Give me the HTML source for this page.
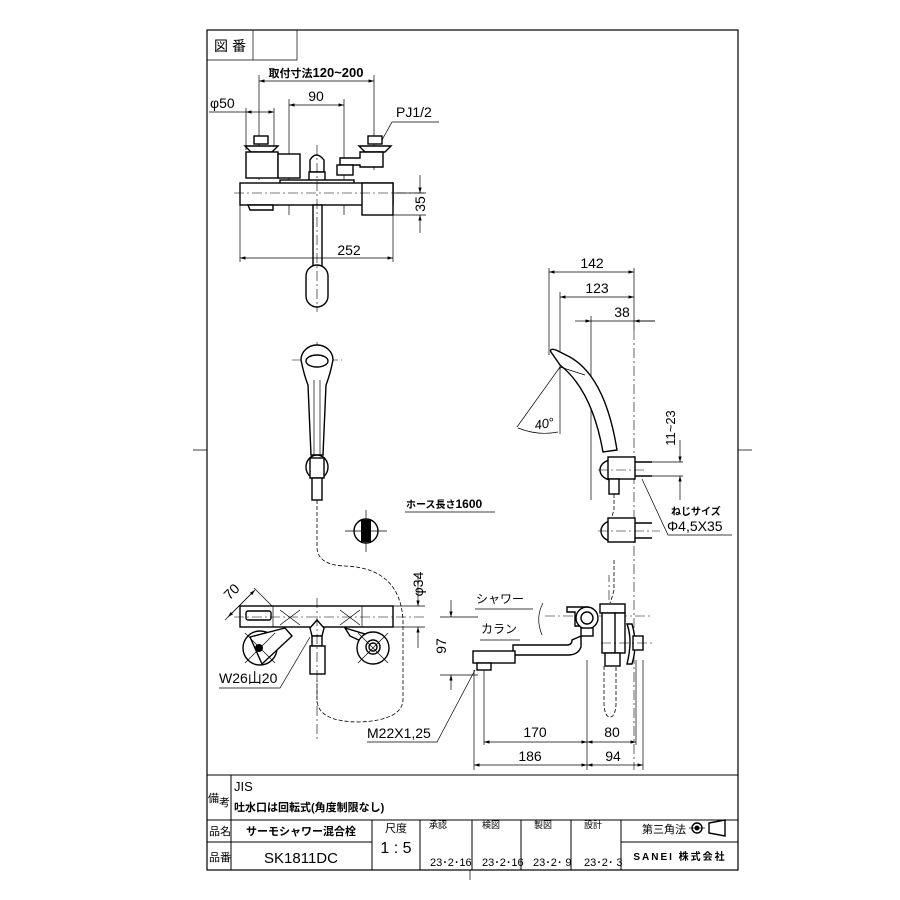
<!DOCTYPE html>
<html><head><meta charset="utf-8"><style>
html,body{margin:0;padding:0;background:#fff}
svg{display:block}
text{font-family:"Liberation Sans","Noto Sans CJK JP",sans-serif;fill:#000}
.o{fill:none;stroke:#000;stroke-width:1.4}
.of{fill:#fff;stroke:#000;stroke-width:1.4}
.t{fill:none;stroke:#000;stroke-width:0.7}
.c{fill:none;stroke:#000;stroke-width:0.6;stroke-dasharray:10 3 2 3}
.d{fill:none;stroke:#000;stroke-width:0.8;stroke-dasharray:4 2}
</style></head><body>
<svg width="900" height="900" viewBox="0 0 900 900" xmlns="http://www.w3.org/2000/svg">
<defs><marker id="a" viewBox="0 0 10 6" refX="10" refY="3" markerWidth="8" markerHeight="5" orient="auto-start-reverse"><path d="M0,0L10,3L0,6z" fill="#000"/></marker></defs>
<rect x="207" y="30" width="531" height="840" fill="none" stroke="#000" stroke-width="1.2"/>
<path class="t" d="M193,450H207M738,450H752M470,870V880"/>
<path class="t" d="M207,60H297V30M253,30V60"/>
<text x="214" y="51" font-size="14">図</text><text x="232" y="51" font-size="14">番</text>

<path class="t" d="M259,75V180M374,75V170M289,99V215M344,99V215M246,108V150M274,108V150"/>
<line class="t" x1="259" y1="81" x2="374" y2="81" marker-start="url(#a)" marker-end="url(#a)"/>
<text x="316" y="77" font-size="13" text-anchor="middle" font-weight="bold"><tspan font-size="11">取付寸法</tspan>120~200</text>
<line class="t" x1="289" y1="105" x2="344" y2="105" marker-start="url(#a)" marker-end="url(#a)"/>
<text x="316" y="101" font-size="14" text-anchor="middle">90</text>
<line class="t" x1="209" y1="112" x2="246" y2="112"/><line class="t" x1="246" y1="112" x2="274" y2="112" marker-start="url(#a)" marker-end="url(#a)"/>
<text x="210" y="108" font-size="14">φ50</text>
<text x="396" y="117" font-size="14">PJ1/2</text>
<path class="t" d="M439,122H392L382,140"/>
<rect class="of" x="254" y="136" width="14" height="8"/>
<path class="of" d="M245,146H278L272,152H251Z"/>
<rect class="of" x="246" y="152" width="32" height="26"/>
<rect class="of" x="278" y="154" width="22" height="24"/>
<rect class="of" x="368" y="136" width="14" height="8"/>
<path class="of" d="M359,146H391L385,152H365Z"/>
<path class="of" d="M340,158H360V152H383V167H360V165H340Z"/>
<rect class="of" x="337" y="165" width="16" height="10"/>
<path class="of" d="M310,172V160Q316,150 324,160V172Z"/>
<rect class="of" x="309" y="172" width="16" height="10"/>
<rect class="of" x="280" y="180" width="74" height="4"/>
<rect class="of" x="240" y="183" width="153" height="22"/>
<rect class="of" x="362" y="183" width="31" height="32"/>
<path class="of" d="M248,205H273V210H250Z"/>
<line class="c" x1="234" y1="193" x2="425" y2="193"/>
<rect class="of" x="313" y="205" width="9" height="61"/>
<rect class="of" x="306" y="265" width="22" height="42" rx="11"/>
<line class="c" x1="317" y1="145" x2="317" y2="312"/>
<path class="t" d="M393,215H426M393,193H426"/>
<line class="t" x1="420" y1="175" x2="420" y2="193" marker-end="url(#a)"/><line class="t" x1="420" y1="233" x2="420" y2="215" marker-end="url(#a)"/>
<text transform="translate(425,204) rotate(-90)" font-size="14" text-anchor="middle">35</text>
<path class="t" d="M240,205V262M393,215V262"/>
<line class="t" x1="240" y1="258" x2="393" y2="258" marker-start="url(#a)" marker-end="url(#a)"/>
<text x="349" y="255" font-size="14" text-anchor="middle">252</text>

<path class="c" d="M292,360H342M317,342V378"/>
<path class="of" d="M301,360A16,15 0 0 1 333,360Q330,375 326,385L323,455H311L308,385Q304,375 301,360Z"/>
<ellipse class="o" cx="317" cy="361" rx="11" ry="6"/>
<path class="t" d="M314,380V455M320,380V455"/>
<ellipse class="of" cx="317" cy="467" rx="11" ry="12"/>
<rect class="of" x="310" y="458" width="14" height="20"/>
<rect class="of" x="312" y="478" width="10" height="22"/>
<path class="d" d="M317,500V548Q318,565 345,566Q400,568 403,620V700Q402,720 360,722Q318,722 317,700V680"/>
<circle class="of" cx="366" cy="531" r="12"/>
<rect x="361" y="520" width="10" height="22" fill="#000"/>
<path class="t" d="M345,531H387M366,510V552"/>
<text x="406" y="508" font-size="12" font-weight="bold"><tspan font-size="10">ホース長さ</tspan>1600</text>
<line class="t" x1="405" y1="512" x2="495" y2="512"/>

<path class="t" d="M225,620L252,593M272,606L254,588"/>
<line class="t" x1="228" y1="617" x2="255" y2="590" marker-start="url(#a)" marker-end="url(#a)"/>
<text transform="translate(235,595) rotate(-45)" font-size="14" text-anchor="middle">70</text>
<circle class="of" cx="260" cy="648" r="17"/>
<path class="of" d="M250,637L285,628 292,636 262,664Z"/>
<circle cx="259" cy="648" r="4" fill="#000"/>
<path class="t" d="M245,633L275,663M245,663L275,633"/>
<path class="of" d="M345,628L385,640 380,650 350,636Z"/>
<circle class="of" cx="373" cy="648" r="16"/>
<circle class="o" cx="373" cy="647" r="7"/><circle class="o" cx="373" cy="647" r="4"/>
<path class="t" d="M358,633L388,663M358,663L388,633"/>
<rect class="of" x="240" y="606" width="153" height="21"/>
<path class="t" d="M273,606V627M362,606V627"/>
<rect class="of" x="246" y="611" width="25" height="9" rx="2"/>
<path class="t" d="M280,610L300,625M280,625L300,610M340,610L360,625M340,625L360,610"/>
<line class="c" x1="234" y1="617" x2="425" y2="617"/>
<path class="of" d="M310,628L317,620 324,628 322,636H312Z"/>
<rect class="of" x="312" y="636" width="10" height="10"/>
<rect class="of" x="310" y="646" width="15" height="28"/>
<line class="c" x1="317" y1="598" x2="317" y2="740"/>
<path class="t" d="M393,606H425M393,627H425"/>
<line class="t" x1="418" y1="575" x2="418" y2="606" marker-end="url(#a)"/><line class="t" x1="418" y1="648" x2="418" y2="627" marker-end="url(#a)"/>
<text transform="translate(423,584) rotate(-90)" font-size="14" text-anchor="middle">φ34</text>
<text x="219" y="683" font-size="14">W26山20</text>
<path class="t" d="M219,688H280L310,637"/>

<path class="t" d="M549,268V355M560,292V370M591,316V500M634,268V330"/>
<line class="t" x1="549" y1="272" x2="634" y2="272" marker-start="url(#a)" marker-end="url(#a)"/>
<text x="592" y="268" font-size="14" text-anchor="middle">142</text>
<line class="t" x1="560" y1="297" x2="634" y2="297" marker-start="url(#a)" marker-end="url(#a)"/>
<text x="597" y="293" font-size="14" text-anchor="middle">123</text>
<path class="t" d="M591,321H655"/>
<line class="t" x1="575" y1="321" x2="591" y2="321" marker-end="url(#a)"/><line class="t" x1="655" y1="321" x2="634" y2="321" marker-end="url(#a)"/>
<text x="622" y="317" font-size="14" text-anchor="middle">38</text>
<line class="c" x1="634" y1="330" x2="634" y2="770"/>
<path class="of" d="M551,352Q549,348 556,350L568,356Q605,375 617,450L603,452Q592,390 560,365Z"/>
<path class="t" d="M560,367L585,375M517,427L560,367M560,367V434"/>
<path class="t" d="M518,428Q538,436 558,432"/>
<text transform="translate(545,428) rotate(-10)" font-size="13" text-anchor="middle" font-style="italic">40°</text>
<ellipse class="of" cx="612" cy="470" rx="12" ry="10"/>
<rect class="of" x="608" y="457" width="27" height="22"/>
<path class="o" d="M635,462H652M635,476H652" stroke-width="2.5"/>
<rect class="of" x="609" y="479" width="10" height="15"/>
<path class="c" d="M598,470H645"/>
<path class="d" d="M614,494V510Q612,515 612,520"/>
<ellipse class="of" cx="612" cy="531" rx="11" ry="10"/>
<rect class="of" x="608" y="518" width="27" height="24"/>
<path class="o" d="M635,523H652M635,538H652" stroke-width="2.5"/>
<path class="c" d="M598,531H660"/>
<path class="t" d="M635,462H683M635,476H683"/>
<line class="t" x1="680" y1="440" x2="680" y2="462" marker-end="url(#a)"/><line class="t" x1="680" y1="500" x2="680" y2="476" marker-end="url(#a)"/>
<text transform="translate(675,428) rotate(-90)" font-size="13" text-anchor="middle">11~23</text>
<text x="671" y="515" font-size="10" font-weight="bold">ねじサイズ</text>
<text x="667" y="531" font-size="14">Φ4,5X35</text>
<path class="t" d="M732,535H668L642,479"/>

<text x="476" y="603" font-size="12">シャワー</text>
<line class="t" x1="475" y1="609" x2="533" y2="609"/>
<text x="481" y="633" font-size="12">カラン</text>
<line class="t" x1="480" y1="640" x2="520" y2="640"/>
<path class="t" d="M543,603Q535,618 542,635"/>
<path class="c" d="M545,616H650"/>
<path class="of" d="M581,636V647Q578,655 568,655H513V645H567Q572,645 572,640Z"/>
<path class="of" d="M567,607H588V612H584V626H575V612H567Z"/>
<circle class="of" cx="587" cy="618" r="11"/><circle class="o" cx="587" cy="618" r="6"/>
<rect class="of" x="581" y="628" width="12" height="8"/>
<rect class="of" x="473" y="651" width="42" height="12"/>
<rect class="of" x="477" y="663" width="14" height="7"/>
<rect class="of" x="600" y="604" width="25" height="9"/>
<rect class="of" x="602" y="613" width="14" height="40"/>
<rect class="of" x="615" y="613" width="10" height="40"/>
<rect class="of" x="605" y="653" width="15" height="13"/>
<path class="of" d="M627,624Q633,640 627,664H632Q638,644 632,624Z"/>
<rect class="of" x="633" y="636" width="10" height="14"/>
<path class="d" d="M604,666V705Q605,717 610,717Q615,717 616,705V666"/>
<path class="c" d="M601,643H652M609,600V575"/>
<path class="d" d="M614,560V590Q612,598 610,603"/>
<path class="t" d="M440,617H478M440,675H478"/>
<line class="t" x1="451" y1="600" x2="451" y2="617" marker-end="url(#a)"/><line class="t" x1="451" y1="690" x2="451" y2="675" marker-end="url(#a)"/>
<text transform="translate(446,646) rotate(-90)" font-size="14" text-anchor="middle">97</text>
<text x="367" y="738" font-size="14">M22X1,25</text>
<path class="t" d="M367,742H437L475,670"/>
<path class="t" d="M474,670V770M484,670V745M587,660V770M636,660V745M643,660V770"/>
<line class="t" x1="484" y1="742" x2="587" y2="742" marker-start="url(#a)" marker-end="url(#a)"/>
<line class="t" x1="587" y1="742" x2="636" y2="742" marker-start="url(#a)" marker-end="url(#a)"/>
<text x="535" y="737" font-size="14" text-anchor="middle">170</text>
<text x="612" y="737" font-size="14" text-anchor="middle">80</text>
<line class="t" x1="474" y1="765" x2="587" y2="765" marker-start="url(#a)" marker-end="url(#a)"/>
<line class="t" x1="587" y1="765" x2="643" y2="765" marker-start="url(#a)" marker-end="url(#a)"/>
<text x="530" y="761" font-size="14" text-anchor="middle">186</text>
<text x="613" y="761" font-size="14" text-anchor="middle">94</text>

<path d="M207,775H738M207,820H738M231,775V870M372,820V870M420,820V870M472,820V870M521,820V870M571,820V870M621,820V870M207,842H372M621,842H738" fill="none" stroke="#000" stroke-width="1"/>
<text x="208" y="802" font-size="11">備</text><text x="219" y="806" font-size="11">考</text>
<text x="234" y="791" font-size="13">JIS</text>
<text x="234" y="811" font-size="11" font-weight="bold">吐水口は回転式(角度制限なし)</text>
<text x="209" y="835" font-size="11">品名</text>
<text x="209" y="861" font-size="11">品番</text>
<text x="301" y="835" font-size="11" font-weight="bold" text-anchor="middle">サーモシャワー混合栓</text>
<text x="301" y="863" font-size="15" text-anchor="middle">SK1811DC</text>
<text x="396" y="832" font-size="11" text-anchor="middle">尺度</text>
<text x="396" y="853" font-size="16" text-anchor="middle">1 : 5</text>
<text x="429" y="828" font-size="9">承認</text><text x="482" y="828" font-size="9">検図</text>
<text x="534" y="828" font-size="9">製図</text><text x="584" y="828" font-size="9">設計</text>
<text x="430" y="866" font-size="11">23･2･16</text><text x="482" y="866" font-size="11">23･2･16</text>
<text x="533" y="866" font-size="11">23･2･ 9</text><text x="584" y="866" font-size="11">23･2･ 3</text>
<text x="642" y="833" font-size="11">第三角法</text>
<circle class="o" cx="697" cy="828" r="5"/><circle cx="697" cy="828" r="2.5" fill="#000"/><path class="t" d="M689,828H705"/>
<path class="o" d="M709,823L725,820V836L709,833Z"/>
<text x="680" y="860" font-size="10" font-weight="bold" text-anchor="middle" letter-spacing="2">SANEI 株式会社</text>
</svg>
</body></html>
